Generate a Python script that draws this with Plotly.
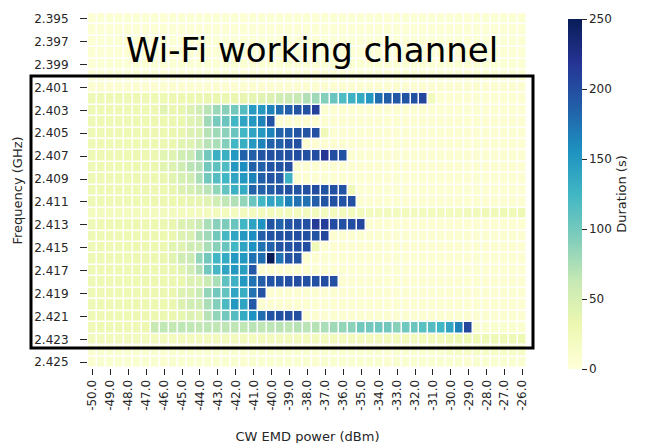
import plotly.graph_objects as go

power_dbm = [-50.0, -49.5, -49.0, -48.5, -48.0, -47.5, -47.0, -46.5, -46.0, -45.5,
             -45.0, -44.5, -44.0, -43.5, -43.0, -42.5, -42.0, -41.5, -41.0, -40.5,
             -40.0, -39.5, -39.0, -38.5, -38.0, -37.5, -37.0, -36.5, -36.0, -35.5,
             -35.0, -34.5, -34.0, -33.5, -33.0, -32.5, -32.0, -31.5, -31.0, -30.5,
             -30.0, -29.5, -29.0, -28.5, -28.0, -27.5, -27.0, -26.5, -26.0]
freq_ghz = [2.395, 2.396, 2.397, 2.398, 2.399, 2.400, 2.401, 2.402, 2.403, 2.404,
            2.405, 2.406, 2.407, 2.408, 2.409, 2.410, 2.411, 2.412, 2.413, 2.414,
            2.415, 2.416, 2.417, 2.418, 2.419, 2.420, 2.421, 2.422, 2.423, 2.424, 2.425]
x_tick_vals = [-50.0, -49.0, -48.0, -47.0, -46.0, -45.0, -44.0, -43.0, -42.0, -41.0, -40.0,
               -39.0, -38.0, -37.0, -36.0, -35.0, -34.0, -33.0, -32.0, -31.0, -30.0,
               -29.0, -28.0, -27.0, -26.0]
x_tick_text = ["-50.0", "-49.0", "-48.0", "-47.0", "-46.0", "-45.0", "-44.0", "-43.0", "-42.0",
               "-41.0", "-40.0", "-39.0", "-38.0", "-37.0", "-36.0", "-35.0", "-34.0", "-33.0",
               "-32.0", "-31.0", "-30.0", "-29.0", "-28.0", "-27.0", "-26.0"]
y_tick_vals = [2.395, 2.397, 2.399, 2.401, 2.403, 2.405, 2.407, 2.409, 2.411, 2.413,
               2.415, 2.417, 2.419, 2.421, 2.423, 2.425]
y_tick_text = ["2.395", "2.397", "2.399", "2.401", "2.403", "2.405", "2.407", "2.409",
               "2.411", "2.413", "2.415", "2.417", "2.419", "2.421", "2.423", "2.425"]
cbar_ticks = [0, 50, 100, 150, 200, 250]

duration_s = [
    # 2.395
    [5,5,5,5,5,5,5,5,5,5, 5,5,5,5,5,5,5,5,5,5, 5,5,5,5,5,5,5,5,5,5, 5,5,5,5,5,5,5,5,5,5, 5,5,5,5,5,5,5,5,5],
    # 2.396
    [5,5,5,5,5,5,5,5,5,5, 5,5,5,5,5,5,5,5,5,5, 5,5,5,5,5,5,5,5,5,5, 5,5,5,5,5,5,5,5,5,5, 5,5,5,5,5,5,5,5,5],
    # 2.397
    [5,5,5,5,5,5,5,5,5,5, 5,5,5,5,5,5,5,5,5,5, 5,5,5,5,5,5,5,5,5,5, 5,5,5,5,5,5,5,5,5,5, 5,5,5,5,5,5,5,5,5],
    # 2.398
    [5,5,5,5,5,5,5,5,5,5, 5,5,5,5,5,5,5,5,5,5, 5,5,5,5,5,5,5,5,5,5, 5,5,5,5,5,5,5,5,5,5, 5,5,5,5,5,5,5,5,5],
    # 2.399
    [5,5,5,5,5,5,5,5,5,5, 5,5,5,5,5,5,5,5,5,5, 5,5,5,5,5,5,5,5,5,5, 5,5,5,5,5,5,5,5,5,5, 5,5,5,5,5,5,5,5,5],
    # 2.400
    [5,5,5,5,5,5,5,5,5,5, 5,5,5,5,5,5,5,5,5,5, 5,5,5,5,5,5,5,5,5,5, 5,5,5,5,5,5,5,5,5,5, 5,5,5,5,5,5,5,5,5],
    # 2.401
    [7,7,7,7,7,7,7,7,7,7, 7,7,7,7,7,7,7,7,7,7, 7,7,7,7,7,7,7,7,7,7, 7,7,7,7,7,7,7,7,7,7, 7,7,7,7,7,7,7,7,7],
    # 2.402
    [27,27,28,27,28,28,28,29,29,30, 30,31,32,33,34,32,33,35,37,42, 45,55,58,62,72,80,92,105,118,128,
     135,150,178,188,192,195,198,205,22,6, 6,6,6,6,6,6,6,6,6],
    # 2.403
    [27,27,28,28,27,28,29,30,40,33, 36,45,55,68,82,90,100,115,148,150, 165,178,187,195,197,210,6,6,6,6,
     6,6,6,6,6,6,6,6,6,6, 6,6,6,6,6,6,6,6,6],
    # 2.404
    [27,28,27,28,28,29,29,30,31,32, 34,42,48,80,98,105,125,140,150,165, 195,6,6,6,6,6,6,6,6,6,
     6,6,6,6,6,6,6,6,6,6, 6,6,6,6,6,6,6,6,6],
    # 2.405
    [27,27,28,28,29,29,30,30,31,33, 35,44,48,70,80,88,105,125,140,150, 165,185,187,195,196,198,25,6,6,6,
     6,6,6,6,6,6,6,6,6,6, 6,6,6,6,6,6,6,6,6],
    # 2.406
    [27,28,27,28,29,29,30,31,32,34, 40,42,55,70,75,92,125,132,150,165, 185,186,195,197,6,6,6,6,6,6,
     6,6,6,6,6,6,6,6,6,6, 6,6,6,6,6,6,6,6,6],
    # 2.407
    [27,28,28,28,29,30,30,32,40,42, 55,58,80,100,130,130,150,185,186,195, 197,195,198,200,198,200,218,200,198,6,
     6,6,6,6,6,6,6,6,6,6, 6,6,6,6,6,6,6,6,6],
    # 2.408
    [27,27,28,29,29,30,31,32,40,45, 55,68,72,100,110,118,150,158,185,186, 195,196,198,6,6,6,6,6,6,6,
     6,6,6,6,6,6,6,6,6,6, 6,6,6,6,6,6,6,6,6],
    # 2.409
    [27,28,28,29,29,30,30,31,33,40, 50,55,75,100,115,125,140,150,165,187, 195,192,128,6,6,6,6,6,6,6,
     6,6,6,6,6,6,6,6,6,6, 6,6,6,6,6,6,6,6,6],
    # 2.410
    [27,27,28,28,29,29,30,30,31,35, 45,50,60,68,85,108,130,135,185,186, 190,195,197,195,198,200,196,198,195,25,
     6,6,6,6,6,6,6,6,6,6, 6,6,6,6,6,6,6,6,6],
    # 2.411
    [27,27,28,28,28,29,29,30,30,31, 32,35,37,42,55,65,72,85,105,125, 140,138,165,175,175,187,195,197,196,198,
     6,6,6,6,6,6,6,6,6,6, 6,6,6,6,6,6,6,6,6],
    # 2.412
    [20,21,20,21,20,21,21,20,21,22, 21,20,21,22,21,21,20,21,22,21, 21,20,21,22,21,21,22,21,22,21,
     22,22,21,22,22,23,22,22,23,22, 23,23,24,24,26,26,27,26,27],
    # 2.413
    [27,28,28,29,29,30,30,31,32,35, 45,47,58,75,90,95,105,125,142,155, 195,185,196,197,198,215,212,200,198,200,
     205,6,6,6,6,6,6,6,6,6, 6,6,6,6,6,6,6,6,6],
    # 2.414
    [27,27,28,28,29,29,30,31,31,33, 45,47,72,80,100,122,140,150,158,187, 195,196,197,200,198,196,205,6,6,6,
     6,6,6,6,6,6,6,6,6,6, 6,6,6,6,6,6,6,6,6],
    # 2.415
    [27,28,28,28,29,30,30,31,32,40, 42,55,57,75,90,105,125,140,155,175, 185,195,196,198,200,25,6,6,6,6,
     6,6,6,6,6,6,6,6,6,6, 6,6,6,6,6,6,6,6,6],
    # 2.416
    [27,27,28,29,29,30,30,31,33,40, 55,58,85,100,125,135,150,150,175,178, 250,175,195,197,6,6,6,6,6,6,
     6,6,6,6,6,6,6,6,6,6, 6,6,6,6,6,6,6,6,6],
    # 2.417
    [27,28,28,29,29,30,31,31,32,34, 40,55,72,100,122,140,150,145,192,6, 6,6,6,6,6,6,6,6,6,6,
     6,6,6,6,6,6,6,6,6,6, 6,6,6,6,6,6,6,6,6],
    # 2.418
    [27,27,28,28,29,29,30,30,31,32, 34,44,46,60,75,110,128,150,175,187, 195,196,198,200,197,198,200,198,6,6,
     6,6,6,6,6,6,6,6,6,6, 6,6,6,6,6,6,6,6,6],
    # 2.419
    [27,28,28,29,29,29,30,31,32,33, 45,46,60,85,100,108,140,132,175,196, 6,6,6,6,6,6,6,6,6,6,
     6,6,6,6,6,6,6,6,6,6, 6,6,6,6,6,6,6,6,6],
    # 2.420
    [27,27,28,28,29,30,30,31,31,33, 45,55,57,75,92,120,150,140,192,6, 6,6,6,6,6,6,6,6,6,6,
     6,6,6,6,6,6,6,6,6,6, 6,6,6,6,6,6,6,6,6],
    # 2.421
    [27,28,28,29,29,30,30,31,32,33, 36,45,42,70,85,100,115,135,155,178, 195,197,198,200,6,6,6,6,6,6,
     6,6,6,6,6,6,6,6,6,6, 6,6,6,6,6,6,6,6,6],
    # 2.422
    [26,27,27,28,28,28,30,62,65,64, 66,65,64,66,65,67,66,65,68,66, 67,68,66,70,68,70,75,80,85,88,
     100,100,102,100,90,102,105,112,115,125, 140,165,205,8,8,8,8,8,8],
    # 2.423
    [22,22,21,22,22,21,22,22,22,21, 22,22,22,21,22,22,22,22,21,22, 22,22,22,22,21,22,22,22,22,22,
     22,22,22,22,22,22,22,23,23,23, 27,27,27,28,27,27,28,27,27],
    # 2.424
    [8,8,8,8,8,8,8,8,8,8, 8,8,8,8,8,8,8,8,8,8, 8,8,8,8,8,8,8,8,8,8,
     8,8,8,8,8,8,8,8,8,8, 14,14,14,14,14,14,14,14,14],
    # 2.425
    [8,8,8,8,8,8,8,8,8,8, 8,8,8,8,8,8,8,8,8,8, 8,8,8,8,8,8,8,8,8,8,
     8,8,8,8,8,8,8,8,8,8, 8,8,8,8,8,8,8,8,8],
]
assert len(duration_s) == len(freq_ghz)
assert all(len(r) == len(power_dbm) for r in duration_s)

ylgnbu = [[0.0, "#ffffd9"], [0.125, "#edf8b1"], [0.25, "#c7e9b4"], [0.375, "#7fcdbb"],
          [0.5, "#41b6c4"], [0.625, "#1d91c0"], [0.75, "#225ea8"], [0.875, "#253494"],
          [1.0, "#081d58"]]

FONT = "DejaVu Sans"
TXT = "#262626"

# page body has an 8px margin: figure coords = page coords - OFF
OFF = 8
W, H = 647, 443
ML, MR, MT, MB = 88 - OFF, W - (527 - OFF), 13 - OFF, H - (368 - OFF)
PW, PH = W - ML - MR, H - MT - MB


def px(xp):
    return (xp - OFF - ML) / PW


def py(yp):
    return 1 - (yp - OFF - MT) / PH


fig = go.Figure()
fig.add_trace(go.Heatmap(
    x=power_dbm, y=freq_ghz, z=duration_s,
    colorscale=ylgnbu, zmin=0, zmax=250,
    xgap=1.5, ygap=1.5,
    colorbar=dict(
        thickness=14, lenmode="pixels", len=350,
        x=px(568), xanchor="left", xpad=0,
        y=py(194), yanchor="middle", ypad=0,
        tickvals=cbar_ticks, ticks="outside", ticklen=5, tickwidth=1,
        tickcolor=TXT, outlinewidth=0,
        tickfont=dict(family=FONT, size=12, color=TXT),
        title=dict(text="Duration (s)", side="right",
                   font=dict(family=FONT, size=13, color=TXT)),
    ),
))

fig.update_layout(
    width=W, height=H,
    margin=dict(l=ML, r=MR, t=MT, b=MB, autoexpand=False),
    paper_bgcolor="white", plot_bgcolor="white",
    font=dict(family=FONT, color=TXT),
    xaxis=dict(
        range=[-50.25, -25.75], tickvals=x_tick_vals, ticktext=x_tick_text,
        tickangle=-90, ticks="outside", ticklen=6, tickwidth=1, tickcolor=TXT,
        tickfont=dict(family=FONT, size=12, color=TXT),
        showgrid=False, zeroline=False, showline=False,
        title=dict(text="CW EMD power (dBm)", font=dict(family=FONT, size=13, color=TXT),
                   standoff=22),
    ),
    yaxis=dict(
        range=[2.4255, 2.3945], tickvals=y_tick_vals, ticktext=y_tick_text,
        ticks="outside", ticklen=7, tickwidth=1, tickcolor=TXT, ticklabelstandoff=9,
        tickfont=dict(family=FONT, size=12, color=TXT),
        showgrid=False, zeroline=False, showline=False,
        title=dict(text="Frequency (GHz)", font=dict(family=FONT, size=13, color=TXT),
                   standoff=8),
    ),
    shapes=[dict(type="rect", xref="paper", yref="paper",
                 x0=px(31), x1=px(533), y0=py(348), y1=py(76),
                 line=dict(color="black", width=3), fillcolor="rgba(0,0,0,0)")],
    annotations=[dict(text="Wi-Fi working channel", xref="paper", yref="paper",
                      x=px(312), y=py(50), xanchor="center", yanchor="middle",
                      showarrow=False,
                      font=dict(family=FONT, size=34, color="black"))],
)

fig.write_html("out.html")
